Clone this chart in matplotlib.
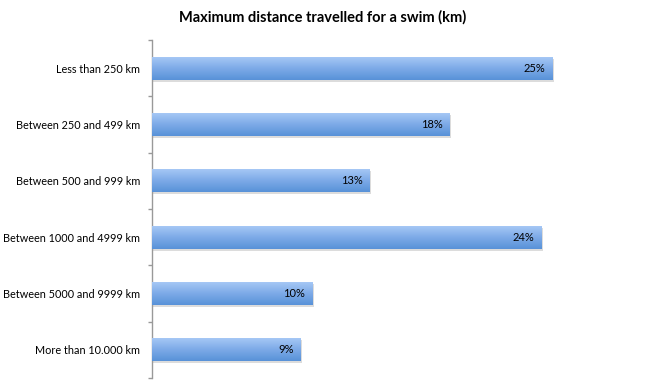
import matplotlib
matplotlib.use('Agg')
import matplotlib.pyplot as plt
import matplotlib.patheffects as pe
from matplotlib.colors import LinearSegmentedColormap
import numpy as np

# data
categories = ['Less than 250 km', 'Between 250 and 499 km', 'Between 500 and 999 km',
              'Between 1000 and 4999 km', 'Between 5000 and 9999 km', 'More than 10.000 km']
values = [24.7, 18.35, 13.45, 24.05, 9.9, 9.18]
labels = ['25%', '18%', '13%', '24%', '10%', '9%']

plt.rcParams['font.family'] = ['Lato', 'DejaVu Sans']

fig = plt.figure(figsize=(6.46, 3.89), dpi=100)
ax = fig.add_axes([152 / 646, 11 / 389, 486 / 646, 338 / 389])

y = np.arange(len(categories))
bars = ax.barh(y, values, height=0.41, color='#7fa9e3', edgecolor='none',
               path_effects=[pe.SimplePatchShadow(offset=(1, -1.5), alpha=0.25, shadow_rgbFace='#777777'),
                             pe.Normal()])

# gradient fill for each bar
cmap = LinearSegmentedColormap.from_list('g', ['#5892d8', '#7eabe8', '#a9caf6'])
grad = np.linspace(0, 1, 100).reshape(-1, 1)
for b in bars:
    x0, y0 = b.get_x(), b.get_y()
    w, h = b.get_width(), b.get_height()
    im = ax.imshow(grad, cmap=cmap, aspect='auto', extent=[x0, x0 + w, y0 + h, y0],
                   origin='lower', zorder=3)
    im.set_clip_path(b)

for i in range(len(values)):
    ax.annotate(labels[i], xy=(values[i], y[i]), xytext=(-5, 0), textcoords='offset points',
                ha='right', va='center', fontsize=8, color='black', zorder=4)

ax.set_xlim(0, 30)
ax.set_ylim(len(categories) - 0.5, -0.5)
ax.set_yticks(y)
ax.set_yticklabels(categories, fontsize=7.8)
ax.tick_params(axis='y', which='major', length=0, pad=8.5)
ax.set_yticks(np.arange(-0.5, len(categories), 1), minor=True)
ax.tick_params(axis='y', which='minor', length=3, color='#999999', width=1)
ax.set_xticks([])
for s in ['top', 'right', 'bottom']:
    ax.spines[s].set_visible(False)
ax.spines['left'].set_color('#999999')
ax.spines['left'].set_linewidth(1)

fig.text(0.5, 0.956, 'Maximum distance travelled for a swim (km)', ha='center', va='center',
         fontsize=10.5, fontweight='bold')

fig.savefig('out.png', dpi=100)
